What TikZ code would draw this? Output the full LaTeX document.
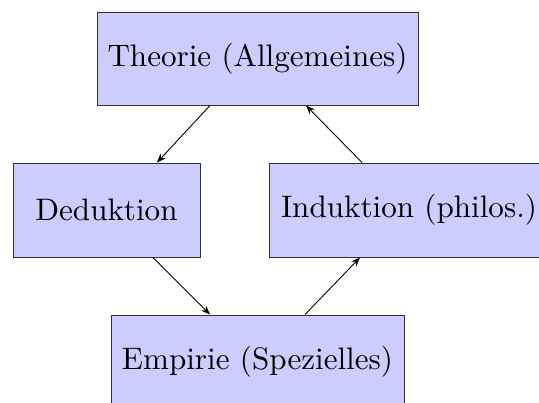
\documentclass[tikz,border=0pt]{standalone}
\usepackage{graphicx}
\usetikzlibrary{arrows.meta}
\newcommand{\bigtxt}[1]{\scalebox{1.555}{#1}}
\tikzset{
  box/.style={draw=black!80, fill=blue!20, line width=0.5pt, inner sep=0pt, align=center},
  arr/.style={-{Stealth[length=4.5pt,width=3.5pt,inset=1.5pt]}, line width=0.45pt}
}
\begin{document}
\begin{tikzpicture}[x=0.5pt,y=-0.5pt]
\useasboundingbox (0,0) rectangle (539,402);
\node[box, minimum width=160.5pt, minimum height=46.5pt] (T) at (257.5,58.5) {\bigtxt{Theorie (Allgemeines)}};
\node[box, minimum width=93.5pt, minimum height=47pt] (D) at (106.5,210) {\bigtxt{Deduktion}};
\node[box, minimum width=140pt, minimum height=47pt] (I) at (409,210) {\bigtxt{Induktion (philos.)}};
\node[box, minimum width=146.5pt, minimum height=47pt] (E) at (257.5,362) {\bigtxt{Empirie (Spezielles)}};
\draw[arr] ([xshift=-23.75pt]T.south) -- ([xshift=25.25pt]D.north);
\draw[arr] ([xshift=-23.5pt]I.north) -- ([xshift=24.25pt]T.south);
\draw[arr] ([xshift=23.25pt]D.south) -- ([xshift=-23.75pt]E.north);
\draw[arr] ([xshift=23.75pt]E.north) -- ([xshift=-24.5pt]I.south);
\end{tikzpicture}
\end{document}
